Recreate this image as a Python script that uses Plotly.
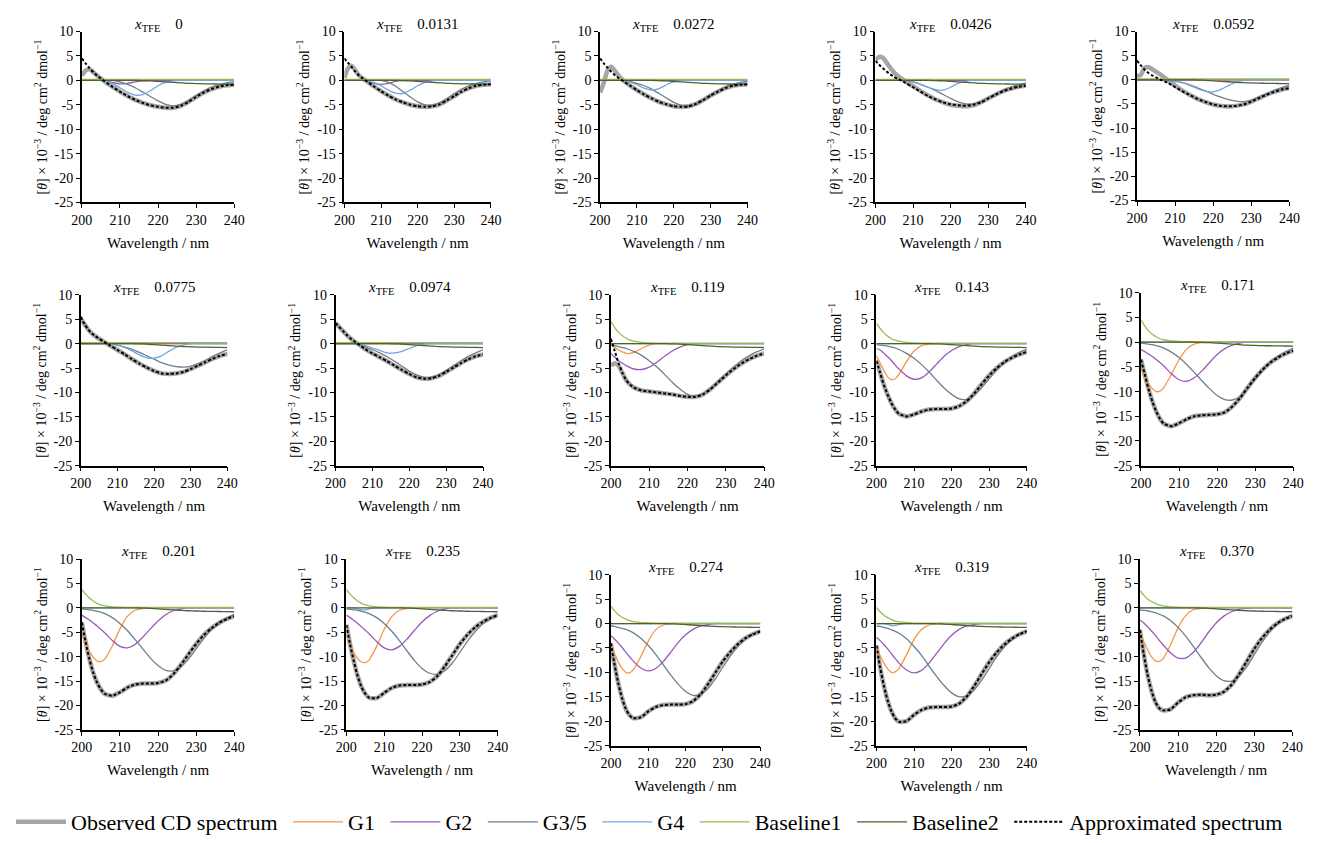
import plotly.graph_objects as go

W, H = 1326, 843

WL = [200, 201, 202, 203, 204, 205, 206, 208, 210, 212, 214, 216, 218, 220,
      222, 224, 226, 228, 230, 232, 234, 236, 238, 240]

LABELS = ["0", "0.0131", "0.0272", "0.0426", "0.0592", "0.0775", "0.0974", "0.119",
          "0.143", "0.171", "0.201", "0.235", "0.274", "0.319", "0.370"]

APPROX = [
    [4.5, 3.5, 2.5, 1.7, 1.0, 0.4, -0.2, -1.3, -2.3, -3.2, -4.0, -4.6, -5.1, -5.4, -5.6, -5.6, -5.2, -4.4, -3.4, -2.5, -1.8, -1.3, -1.0, -0.9],
    [4.5, 3.6, 2.7, 1.8, 1.0, 0.4, -0.1, -1.2, -2.2, -3.1, -3.9, -4.5, -5.0, -5.3, -5.4, -5.3, -4.9, -4.1, -3.2, -2.3, -1.6, -1.1, -0.9, -0.8],
    [4.5, 3.5, 2.6, 1.8, 1.1, 0.5, 0.0, -1.0, -2.0, -2.9, -3.7, -4.4, -4.9, -5.3, -5.4, -5.3, -4.8, -4.0, -3.1, -2.3, -1.6, -1.1, -0.9, -0.8],
    [4.0, 3.2, 2.5, 1.8, 1.2, 0.7, 0.3, -0.5, -1.4, -2.3, -3.2, -3.9, -4.5, -4.9, -5.1, -5.2, -5.0, -4.5, -3.7, -2.9, -2.2, -1.7, -1.3, -1.1],
    [4.0, 3.0, 2.1, 1.4, 0.9, 0.5, 0.1, -0.6, -1.5, -2.4, -3.2, -4.0, -4.6, -5.1, -5.4, -5.5, -5.4, -5.1, -4.5, -3.8, -3.1, -2.5, -2.0, -1.7],
    [5.5, 4.0, 2.9, 2.1, 1.5, 1.0, 0.5, -0.4, -1.3, -2.2, -3.2, -4.1, -4.9, -5.6, -6.1, -6.2, -6.1, -5.8, -5.2, -4.5, -3.8, -3.1, -2.5, -2.1],
    [4.2, 3.4, 2.6, 1.8, 1.1, 0.5, 0.0, -1.1, -2.0, -2.8, -3.6, -4.5, -5.4, -6.2, -6.9, -7.2, -7.1, -6.6, -5.8, -4.9, -4.0, -3.2, -2.6, -2.2],
    [1.0, -1.5, -4.0, -6.0, -7.5, -8.4, -9.0, -9.6, -9.8, -10.0, -10.2, -10.4, -10.7, -10.9, -10.9, -10.4, -9.3, -7.9, -6.5, -5.2, -4.1, -3.2, -2.5, -2.0],
    [-3.5, -6.0, -8.5, -10.5, -12.2, -13.5, -14.4, -14.9, -14.5, -13.9, -13.5, -13.4, -13.4, -13.3, -12.8, -11.8, -10.2, -8.3, -6.5, -5.0, -3.8, -2.9, -2.2, -1.7],
    [-3.5, -6.5, -9.5, -12.0, -14.0, -15.5, -16.5, -17.0, -16.4, -15.6, -15.0, -14.8, -14.7, -14.6, -14.2, -13.0, -11.3, -9.2, -7.2, -5.5, -4.1, -3.1, -2.3, -1.7],
    [-3.0, -7.0, -10.5, -13.3, -15.3, -16.7, -17.6, -18.0, -17.3, -16.3, -15.7, -15.5, -15.5, -15.4, -14.9, -13.6, -11.7, -9.5, -7.4, -5.6, -4.2, -3.1, -2.3, -1.7],
    [-3.5, -7.5, -11.0, -14.0, -16.2, -17.6, -18.4, -18.5, -17.4, -16.4, -15.9, -15.8, -15.8, -15.7, -15.2, -14.0, -12.0, -9.7, -7.4, -5.5, -4.0, -2.9, -2.1, -1.5],
    [-4.0, -8.5, -12.3, -15.3, -17.5, -18.8, -19.4, -19.2, -18.0, -17.1, -16.7, -16.6, -16.6, -16.5, -15.9, -14.5, -12.4, -10.0, -7.7, -5.8, -4.2, -3.0, -2.2, -1.6],
    [-4.5, -9.0, -12.8, -15.8, -18.0, -19.4, -20.1, -20.0, -18.7, -17.7, -17.2, -17.1, -17.1, -17.0, -16.4, -15.0, -12.8, -10.3, -7.9, -5.9, -4.3, -3.1, -2.2, -1.6],
    [-4.5, -9.5, -13.7, -16.9, -19.2, -20.5, -21.0, -20.8, -19.4, -18.3, -17.9, -17.8, -17.9, -17.8, -17.2, -15.8, -13.6, -11.0, -8.4, -6.2, -4.5, -3.2, -2.3, -1.7],
]

OBSERVED = [
    [1.0, 2.0, 2.3, 1.7, 1.0, 0.4, -0.2, -1.3, -2.3, -3.2, -4.0, -4.6, -5.1, -5.4, -5.6, -5.6, -5.2, -4.4, -3.4, -2.5, -1.8, -1.3, -1.0, -0.9],
    [0.5, 2.5, 3.0, 2.0, 1.0, 0.4, -0.1, -1.2, -2.2, -3.1, -3.9, -4.5, -5.0, -5.3, -5.4, -5.3, -4.9, -4.1, -3.2, -2.3, -1.6, -1.1, -0.9, -0.8],
    [-2.5, -0.5, 2.0, 2.8, 2.0, 1.0, 0.2, -1.0, -2.0, -2.9, -3.7, -4.4, -4.9, -5.3, -5.4, -5.3, -4.8, -4.0, -3.1, -2.3, -1.6, -1.1, -0.9, -0.8],
    [4.2, 4.8, 4.6, 3.6, 2.5, 1.6, 0.9, -0.2, -1.2, -2.2, -3.1, -3.9, -4.5, -5.0, -5.2, -5.3, -5.1, -4.5, -3.7, -2.9, -2.2, -1.7, -1.3, -1.1],
    [0.8, 1.0, 2.5, 2.6, 2.2, 1.7, 1.2, 0.0, -1.2, -2.3, -3.2, -4.0, -4.6, -5.1, -5.4, -5.5, -5.4, -5.1, -4.5, -3.8, -3.1, -2.5, -2.0, -1.7],
    [5.0, 4.0, 2.9, 2.1, 1.5, 1.0, 0.5, -0.4, -1.3, -2.2, -3.2, -4.1, -4.9, -5.6, -6.1, -6.2, -6.1, -5.8, -5.2, -4.5, -3.8, -3.1, -2.5, -2.1],
    [4.2, 3.4, 2.6, 1.8, 1.1, 0.5, 0.0, -1.1, -2.0, -2.8, -3.6, -4.5, -5.4, -6.2, -6.9, -7.2, -7.1, -6.6, -5.8, -4.9, -4.0, -3.2, -2.6, -2.2],
    [-4.5, -4.0, -4.5, -6.0, -7.5, -8.4, -9.0, -9.6, -9.8, -10.0, -10.2, -10.4, -10.7, -10.9, -10.9, -10.4, -9.3, -7.9, -6.5, -5.2, -4.1, -3.2, -2.5, -2.0],
    [-3.5, -6.0, -8.5, -10.5, -12.2, -13.5, -14.4, -14.9, -14.5, -13.9, -13.5, -13.4, -13.4, -13.3, -12.8, -11.8, -10.2, -8.3, -6.5, -5.0, -3.8, -2.9, -2.2, -1.7],
    [-3.5, -6.5, -9.5, -12.0, -14.0, -15.5, -16.5, -17.0, -16.4, -15.6, -15.0, -14.8, -14.7, -14.6, -14.2, -13.0, -11.3, -9.2, -7.2, -5.5, -4.1, -3.1, -2.3, -1.7],
    [-3.0, -7.0, -10.5, -13.3, -15.3, -16.7, -17.6, -18.0, -17.3, -16.3, -15.7, -15.5, -15.5, -15.4, -14.9, -13.6, -11.7, -9.5, -7.4, -5.6, -4.2, -3.1, -2.3, -1.7],
    [-3.5, -7.5, -11.0, -14.0, -16.2, -17.6, -18.4, -18.5, -17.4, -16.4, -15.9, -15.8, -15.8, -15.7, -15.2, -14.0, -12.0, -9.7, -7.4, -5.5, -4.0, -2.9, -2.1, -1.5],
    [-4.0, -8.5, -12.3, -15.3, -17.5, -18.8, -19.4, -19.2, -18.0, -17.1, -16.7, -16.6, -16.6, -16.5, -15.9, -14.5, -12.4, -10.0, -7.7, -5.8, -4.2, -3.0, -2.2, -1.6],
    [-4.5, -9.0, -12.8, -15.8, -18.0, -19.4, -20.1, -20.0, -18.7, -17.7, -17.2, -17.1, -17.1, -17.0, -16.4, -15.0, -12.8, -10.3, -7.9, -5.9, -4.3, -3.1, -2.2, -1.6],
    [-4.5, -9.5, -13.7, -16.9, -19.2, -20.5, -21.0, -20.8, -19.4, -18.3, -17.9, -17.8, -17.9, -17.8, -17.2, -15.8, -13.6, -11.0, -8.4, -6.2, -4.5, -3.2, -2.3, -1.7],
]

G1 = [
    [0] * 24, [0] * 24, [0] * 24, [0] * 24, [0] * 24, [0] * 24, [0] * 24,
    [-0.3, -0.8, -1.3, -1.7, -2.0, -2.0, -1.8, -1.0, -0.3, 0, 0, 0, 0, 0, 0, 0, 0, 0, 0, 0, 0, 0, 0, 0],
    [-2.5, -4.0, -5.5, -6.8, -7.4, -7.2, -6.3, -3.7, -1.5, -0.4, -0.1, 0, 0, 0, 0, 0, 0, 0, 0, 0, 0, 0, 0, 0],
    [-5.5, -7.0, -8.4, -9.4, -10.0, -9.9, -9.2, -6.5, -3.5, -1.4, -0.4, -0.1, 0, 0, 0, 0, 0, 0, 0, 0, 0, 0, 0, 0],
    [-5.5, -7.3, -8.9, -10.1, -10.9, -11.0, -10.5, -7.8, -4.3, -1.7, -0.5, -0.1, 0, 0, 0, 0, 0, 0, 0, 0, 0, 0, 0, 0],
    [-5.8, -7.6, -9.2, -10.4, -11.1, -11.2, -10.7, -7.9, -4.4, -1.8, -0.5, -0.1, 0, 0, 0, 0, 0, 0, 0, 0, 0, 0, 0, 0],
    [-4.5, -6.2, -7.9, -9.2, -10.0, -10.1, -9.5, -6.8, -3.6, -1.3, -0.3, 0, 0, 0, 0, 0, 0, 0, 0, 0, 0, 0, 0, 0],
    [-5.0, -6.6, -8.1, -9.3, -10.0, -9.9, -9.2, -6.4, -3.3, -1.2, -0.3, 0, 0, 0, 0, 0, 0, 0, 0, 0, 0, 0, 0, 0],
    [-5.0, -6.9, -8.6, -10.0, -10.8, -11.0, -10.5, -7.6, -4.1, -1.6, -0.4, -0.1, 0, 0, 0, 0, 0, 0, 0, 0, 0, 0, 0, 0],
]

G2 = [
    [0, 0, 0, 0, 0, 0, -0.1, -0.4, -0.7, -0.6, -0.3, -0.1, 0, 0, 0, 0, 0, 0, 0, 0, 0, 0, 0, 0],
    [0, 0, 0, 0, 0, 0, -0.2, -0.6, -0.8, -0.6, -0.2, 0, 0, 0, 0, 0, 0, 0, 0, 0, 0, 0, 0, 0],
    [0] * 24, [0] * 24, [0] * 24, [0] * 24, [0] * 24,
    [-2.0, -2.8, -3.5, -4.0, -4.5, -4.9, -5.2, -5.3, -4.8, -3.8, -2.6, -1.5, -0.7, -0.2, 0, 0, 0, 0, 0, 0, 0, 0, 0, 0],
    [-1.0, -1.3, -2.0, -2.7, -3.5, -4.4, -5.2, -6.6, -7.3, -7.0, -5.8, -4.2, -2.6, -1.4, -0.6, -0.2, 0, 0, 0, 0, 0, 0, 0, 0],
    [-1.5, -1.9, -2.4, -2.9, -3.5, -4.1, -4.8, -6.4, -7.6, -7.9, -7.2, -5.8, -4.1, -2.5, -1.3, -0.6, -0.2, 0, 0, 0, 0, 0, 0, 0],
    [-1.5, -2.0, -2.5, -3.1, -3.7, -4.4, -5.1, -6.7, -7.9, -8.2, -7.5, -6.0, -4.3, -2.7, -1.4, -0.6, -0.2, 0, 0, 0, 0, 0, 0, 0],
    [-1.5, -2.0, -2.6, -3.2, -3.9, -4.6, -5.3, -6.9, -8.2, -8.6, -7.9, -6.4, -4.6, -2.9, -1.6, -0.7, -0.2, 0, 0, 0, 0, 0, 0, 0],
    [-2.5, -3.2, -4.0, -4.9, -5.9, -6.8, -7.7, -9.1, -9.7, -9.2, -7.8, -5.9, -3.9, -2.3, -1.2, -0.5, -0.2, 0, 0, 0, 0, 0, 0, 0],
    [-2.8, -3.5, -4.3, -5.2, -6.2, -7.2, -8.1, -9.5, -10.1, -9.6, -8.1, -6.1, -4.1, -2.4, -1.2, -0.5, -0.2, 0, 0, 0, 0, 0, 0, 0],
    [-2.5, -3.1, -3.9, -4.7, -5.6, -6.6, -7.5, -9.2, -10.3, -10.3, -9.1, -7.2, -5.0, -3.1, -1.7, -0.8, -0.3, -0.1, 0, 0, 0, 0, 0, 0],
]

G35 = [
    [0, 0, 0, 0, 0, 0, 0, 0, -0.3, -0.8, -1.5, -2.4, -3.3, -4.2, -4.9, -5.2, -4.9, -4.1, -3.1, -2.2, -1.4, -0.9, -0.5, -0.3],
    [0, 0, 0, 0, 0, 0, 0, 0, 0, -0.4, -1.2, -2.3, -3.4, -4.4, -5.0, -5.1, -4.6, -3.7, -2.7, -1.8, -1.1, -0.6, -0.3, -0.1],
    [0, 0, 0, 0, 0, 0, 0, -0.2, -0.6, -1.1, -1.8, -2.7, -3.6, -4.5, -5.1, -5.3, -4.9, -4.0, -3.0, -2.1, -1.3, -0.8, -0.4, -0.2],
    [0, 0, 0, 0, 0, 0, 0, 0, -0.3, -0.8, -1.4, -2.1, -2.9, -3.7, -4.4, -4.8, -4.8, -4.4, -3.6, -2.8, -2.0, -1.4, -0.9, -0.5],
    [0, 0, 0, 0, 0, 0, 0, 0, -0.3, -0.6, -1.1, -1.7, -2.3, -3.0, -3.6, -4.1, -4.4, -4.5, -4.2, -3.6, -2.9, -2.2, -1.6, -1.1],
    [0, 0, 0, 0, 0, 0, 0, 0, -0.3, -0.7, -1.2, -1.8, -2.5, -3.2, -3.9, -4.4, -4.7, -4.8, -4.6, -4.1, -3.4, -2.6, -1.9, -1.3],
    [0, 0, 0, 0, 0, 0, -0.2, -0.6, -1.2, -1.9, -2.7, -3.6, -4.6, -5.6, -6.4, -6.9, -6.9, -6.4, -5.5, -4.5, -3.5, -2.6, -1.9, -1.3],
    [-0.3, -0.4, -0.6, -0.8, -1.0, -1.3, -1.6, -2.4, -3.5, -4.8, -6.3, -7.9, -9.3, -10.4, -10.8, -10.3, -9.2, -7.8, -6.2, -4.8, -3.5, -2.5, -1.7, -1.1],
    [-0.2, -0.3, -0.4, -0.5, -0.7, -0.9, -1.2, -2.0, -3.0, -4.3, -5.8, -7.5, -9.1, -10.4, -11.3, -11.4, -10.6, -9.0, -7.2, -5.4, -3.9, -2.7, -1.8, -1.2],
    [-0.2, -0.3, -0.4, -0.5, -0.7, -0.9, -1.2, -2.0, -3.1, -4.5, -6.1, -7.8, -9.4, -10.8, -11.6, -11.7, -11.0, -9.4, -7.5, -5.6, -4.0, -2.8, -1.9, -1.2],
    [-0.2, -0.3, -0.4, -0.5, -0.7, -0.9, -1.2, -2.0, -3.2, -4.7, -6.5, -8.4, -10.3, -11.8, -12.8, -12.9, -12.1, -10.5, -8.4, -6.3, -4.5, -3.1, -2.1, -1.4],
    [-0.2, -0.3, -0.4, -0.5, -0.7, -0.9, -1.2, -2.0, -3.2, -4.8, -6.7, -8.8, -10.8, -12.4, -13.4, -13.6, -12.9, -11.3, -9.1, -6.8, -4.9, -3.3, -2.2, -1.4],
    [-0.5, -0.6, -0.8, -1.0, -1.2, -1.5, -1.9, -3.0, -4.5, -6.3, -8.4, -10.5, -12.4, -13.9, -14.7, -14.5, -13.3, -11.3, -8.9, -6.6, -4.7, -3.2, -2.1, -1.4],
    [-0.5, -0.6, -0.8, -1.0, -1.3, -1.6, -2.0, -3.1, -4.7, -6.5, -8.7, -10.8, -12.7, -14.2, -15.0, -14.8, -13.6, -11.6, -9.2, -6.8, -4.8, -3.3, -2.2, -1.4],
    [-0.4, -0.5, -0.6, -0.8, -1.0, -1.3, -1.6, -2.6, -4.0, -5.8, -7.9, -10.1, -12.2, -13.9, -14.9, -15.0, -14.0, -12.1, -9.6, -7.1, -5.0, -3.4, -2.2, -1.4],
]

G4 = [
    [0, 0, 0, 0, 0, 0, -0.1, -0.6, -1.5, -2.4, -3.0, -2.9, -2.1, -1.1, -0.4, -0.1, 0, 0, 0, 0, 0, 0, 0, 0],
    [0, 0, 0, 0, 0, 0, -0.1, -0.4, -1.1, -2.0, -2.6, -2.7, -2.0, -1.1, -0.4, -0.1, 0, 0, 0, 0, 0, 0, 0, 0],
    [0, 0, 0, 0, 0, 0, 0, -0.3, -0.9, -1.6, -2.0, -1.7, -0.9, -0.3, -0.05, 0, 0, 0, 0, 0, 0, 0, 0, 0],
    [0, 0, 0, 0, 0, 0, 0, 0, -0.3, -0.8, -1.4, -1.9, -2.0, -1.4, -0.6, -0.2, 0, 0, 0, 0, 0, 0, 0, 0],
    [0, 0, 0, 0, 0, 0, 0, 0, -0.2, -0.6, -1.2, -1.9, -2.4, -2.5, -2.0, -1.2, -0.5, -0.1, 0, 0, 0, 0, 0, 0],
    [0, 0, 0, 0, 0, 0, 0, -0.1, -0.3, -0.8, -1.5, -2.3, -2.9, -3.0, -2.5, -1.6, -0.8, -0.3, 0, 0, 0, 0, 0, 0],
    [0, 0, 0, 0, 0, 0, -0.1, -0.4, -0.9, -1.4, -1.9, -1.9, -1.6, -1.0, -0.4, -0.1, 0, 0, 0, 0, 0, 0, 0, 0],
    [0] * 24, [0] * 24, [0] * 24, [0] * 24,
    [0, 0, 0, -0.2, -0.4, -0.4, -0.2, 0, 0, 0, 0, 0, 0, 0, 0, 0, 0, 0, 0, 0, 0, 0, 0, 0],
    [0] * 24,
    [0, 0, 0, -0.2, -0.4, -0.4, -0.2, 0, 0, 0, 0, 0, 0, 0, 0, 0, 0, 0, 0, 0, 0, 0, 0, 0],
    [0] * 24,
]

BASE1 = [
    [0.2] * 24, [0.2] * 24, [0.2] * 24, [0.2] * 24, [0.2] * 24, [0.2] * 24, [0.2] * 24,
    [4.5, 3.3, 2.3, 1.6, 1.1, 0.7, 0.5, 0.25, 0.15, 0.1, 0.1, 0.1, 0.1, 0.1, 0.1, 0.1, 0.1, 0.1, 0.1, 0.1, 0.1, 0.1, 0.1, 0.1],
    [4.2, 3.1, 2.2, 1.5, 1.0, 0.7, 0.5, 0.25, 0.15, 0.1, 0.1, 0.1, 0.1, 0.1, 0.1, 0.1, 0.1, 0.1, 0.1, 0.1, 0.1, 0.1, 0.1, 0.1],
    [4.5, 3.3, 2.3, 1.6, 1.1, 0.7, 0.5, 0.25, 0.15, 0.1, 0.1, 0.1, 0.1, 0.1, 0.1, 0.1, 0.1, 0.1, 0.1, 0.1, 0.1, 0.1, 0.1, 0.1],
    [3.8, 2.8, 2.0, 1.4, 0.9, 0.6, 0.4, 0.2, 0.15, 0.1, 0.1, 0.1, 0.1, 0.1, 0.1, 0.1, 0.1, 0.1, 0.1, 0.1, 0.1, 0.1, 0.1, 0.1],
    [3.8, 2.8, 2.0, 1.4, 0.9, 0.6, 0.4, 0.2, 0.15, 0.1, 0.1, 0.1, 0.1, 0.1, 0.1, 0.1, 0.1, 0.1, 0.1, 0.1, 0.1, 0.1, 0.1, 0.1],
    [3.5, 2.6, 1.8, 1.3, 0.9, 0.6, 0.4, 0.2, 0.15, 0.1, 0.1, 0.1, 0.1, 0.1, 0.1, 0.1, 0.1, 0.1, 0.1, 0.1, 0.1, 0.1, 0.1, 0.1],
    [3.3, 2.4, 1.7, 1.2, 0.8, 0.5, 0.35, 0.2, 0.1, 0.1, 0.1, 0.1, 0.1, 0.1, 0.1, 0.1, 0.1, 0.1, 0.1, 0.1, 0.1, 0.1, 0.1, 0.1],
    [3.5, 2.6, 1.8, 1.3, 0.9, 0.6, 0.4, 0.2, 0.15, 0.1, 0.1, 0.1, 0.1, 0.1, 0.1, 0.1, 0.1, 0.1, 0.1, 0.1, 0.1, 0.1, 0.1, 0.1],
]

BASE2 = [0, 0, 0, 0, 0, 0, 0, 0, 0, 0, 0, -0.05, -0.1, -0.2, -0.3, -0.4, -0.5, -0.6,
         -0.65, -0.7, -0.72, -0.75, -0.77, -0.8]

SP = "\u2005"
SERIES = [
    ("Observed CD spectrum" + SP, OBSERVED, dict(color="#A6A6A6", width=4.5)),
    ("G1" + SP, G1, dict(color="#F79646", width=1.3)),
    ("G2" + SP, G2, dict(color="#9B59B6", width=1.3)),
    ("G3/5" + SP, G35, dict(color="#6E7F8E", width=1.3)),
    ("G4" + SP, G4, dict(color="#6FA8DC", width=1.3)),
    ("Baseline1" + SP, BASE1, dict(color="#9BBB59", width=1.3)),
    ("Baseline2" + SP, [BASE2] * 15, dict(color="#4F6228", width=1.3)),
    ("Approximated spectrum", APPROX, dict(color="#000000", width=2, dash="3px,2px")),
]

# plot-area boxes in pixels: left, right, top, bottom
BOXES = [
    (72, 227, 25, 199), (339, 488, 25, 199), (599, 749, 25, 199), (879, 1032, 25, 199), (1145, 1300, 25, 197),
    (71, 220, 293, 467), (330, 480, 293, 467), (610, 766, 293, 467), (880, 1033, 293, 467), (1149, 1304, 291, 467),
    (72, 227, 562, 736), (341, 495, 562, 736), (610, 762, 578, 752), (880, 1033, 578, 752), (1148, 1303, 562, 736),
]

FONT = "Liberation Serif"

fig = go.Figure()
annotations = []
for i in range(15):
    sfx = "" if i == 0 else str(i + 1)
    xa, ya = "x" + sfx, "y" + sfx
    for name, data, line in SERIES:
        fig.add_trace(go.Scatter(
            x=WL, y=data[i], xaxis=xa, yaxis=ya, mode="lines", name=name,
            legendgroup=name, showlegend=(i == 0),
            line=dict(shape="spline", smoothing=0.6, **line),
            hoverinfo="skip"))
    l, r, t, b = BOXES[i]
    fig.layout["xaxis" + sfx] = dict(
        domain=[l / W, r / W], anchor=ya, range=[200, 240],
        tickvals=[200, 210, 220, 230, 240], ticks="outside", ticklen=4,
        tickcolor="black", showline=True, linecolor="black", linewidth=1.5,
        showgrid=False, zeroline=False,
        tickfont=dict(family=FONT, size=14, color="black"),
        title=dict(text="Wavelength / nm", font=dict(family=FONT, size=15, color="black"), standoff=10))
    fig.layout["yaxis" + sfx] = dict(
        domain=[1 - b / H, 1 - t / H], anchor=xa, range=[-25, 10],
        tickvals=[10, 5, 0, -5, -10, -15, -20, -25],
        ticktext=["10", "5", "0", "-5", "-10", "-15", "-20", "-25"],
        ticks="outside", ticklen=4, tickcolor="black", showline=True,
        linecolor="black", linewidth=1.5, showgrid=False, zeroline=False,
        tickfont=dict(family=FONT, size=14, color="black"),
        title=dict(text="[<i>θ</i>] × 10<sup>−3</sup> / deg cm<sup>2</sup> dmol<sup>−1</sup>",
                   font=dict(family=FONT, size=14, color="black"), standoff=4))
    annotations.append(dict(
        x=(l + r) / 2 / W, y=1 - (t - 7) / H, xref="paper", yref="paper",
        xanchor="center", yanchor="middle", showarrow=False,
        text="<i>x</i><sub>TFE</sub>\u2003" + LABELS[i],
        font=dict(family=FONT, size=15, color="black")))

fig.update_layout(
    width=W, height=H, margin=dict(l=0, r=0, t=0, b=0),
    font=dict(family=FONT, color="black"),
    paper_bgcolor="white", plot_bgcolor="white",
    annotations=annotations,
    showlegend=True,
    legend=dict(orientation="h", x=0.0, xanchor="left", y=1 - 830 / H, yanchor="middle",
                font=dict(family=FONT, size=22, color="black"),
                itemwidth=50, tracegroupgap=0, bgcolor="rgba(0,0,0,0)"),
)

fig.write_html("out.html", config={"displayModeBar": False},
               post_script="document.body.style.margin='0px';")
